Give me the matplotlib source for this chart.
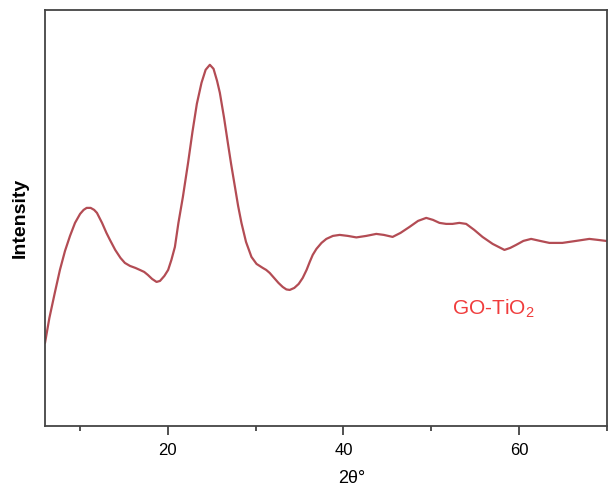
import numpy as np
import matplotlib
matplotlib.use("Agg")
import matplotlib.pyplot as plt
from matplotlib.ticker import MultipleLocator

# XRD pattern of GO-TiO2
two_theta = [6.0, 6.5, 7.14, 7.7, 8.28, 8.85, 9.42, 10.0, 10.4, 10.75,
             11.2, 11.6, 11.92, 12.5, 13.0, 13.4, 14.0, 14.6, 15.1, 15.68,
             16.3, 16.81, 17.3, 17.72, 18.2, 18.71, 19.1, 19.6, 20.03, 20.4,
             20.8, 21.2, 21.71, 22.3, 22.8, 23.3, 23.83, 24.3, 24.78, 25.2,
             25.6, 25.92, 26.4, 26.83, 27.2, 27.62, 28.0, 28.38, 28.9, 29.52,
             30.1, 30.81, 31.2, 31.6, 32.1, 32.6, 33.08, 33.5, 33.88, 34.4,
             34.9, 35.36, 35.8, 36.16, 36.5, 36.92, 37.5, 38.05, 38.8, 39.57,
             40.5, 41.47, 42.6, 43.74, 44.6, 45.6, 46.5, 47.53, 48.5, 49.43,
             50.2, 50.94, 51.7, 52.42, 53.2, 53.98, 54.9, 55.84, 57.0, 58.34,
             59.0, 59.67, 60.5, 61.38, 62.4, 63.46, 64.94, 66.5, 68.01, 69.0,
             69.91]
intensity = [83, 108, 134, 156, 175, 190, 203, 212, 216, 218,
             218, 216, 213, 203, 193, 186, 176, 168, 163, 160,
             158, 156, 154, 151, 147, 144, 145, 150, 156, 166,
             179, 203, 229, 263, 294, 322, 343, 356, 361, 357,
             345, 333, 308, 283, 262, 240, 220, 203, 184, 169,
             162, 158, 156, 153, 148, 143, 139, 136.5, 136, 138,
             142, 148, 156, 164, 171, 177, 183, 187, 190, 191,
             190, 188.5, 190, 192, 191, 189, 193, 199, 205, 208,
             206, 203, 202, 202, 203, 202, 196, 189, 182, 176,
             178, 181, 185, 187, 185, 183, 183, 185, 187, 186,
             185]

x_major = [20, 40, 60]
sample_label = "GO-TiO$_\\mathregular{2}$"

plt.rcParams['font.family'] = ['Liberation Sans', 'DejaVu Sans']

fig = plt.figure(figsize=(6.08, 4.88), dpi=100)
ax = fig.add_axes([0.074, 0.127, 0.924, 0.853])

ax.plot(two_theta, intensity, color='#b34c54', lw=1.6,
        solid_joinstyle='round', solid_capstyle='round', antialiased=True)

ax.set_xlim(6, 70)
ax.set_ylim(0, 416)
ax.set_xticks(x_major)
ax.xaxis.set_minor_locator(MultipleLocator(10))
ax.set_yticks([])
ax.tick_params(axis='x', which='major', length=6.5, width=1.2, color='#333333',
               labelsize=12, pad=6)
ax.tick_params(axis='x', which='minor', length=3.5, width=1.2, color='#333333')
for s in ax.spines.values():
    s.set_color('#444444')
    s.set_linewidth(1.3)

ax.set_ylabel('Intensity', fontsize=14, fontweight='bold', labelpad=12)
ax.set_xlabel('2\u03b8\u00b0', fontsize=13)
ax.xaxis.set_label_coords(0.546, -0.105)

ax.text(52.4, 112, sample_label, color='#f03c3c', fontsize=15, ha='left', va='baseline')

fig.savefig('out.png', dpi=100)
